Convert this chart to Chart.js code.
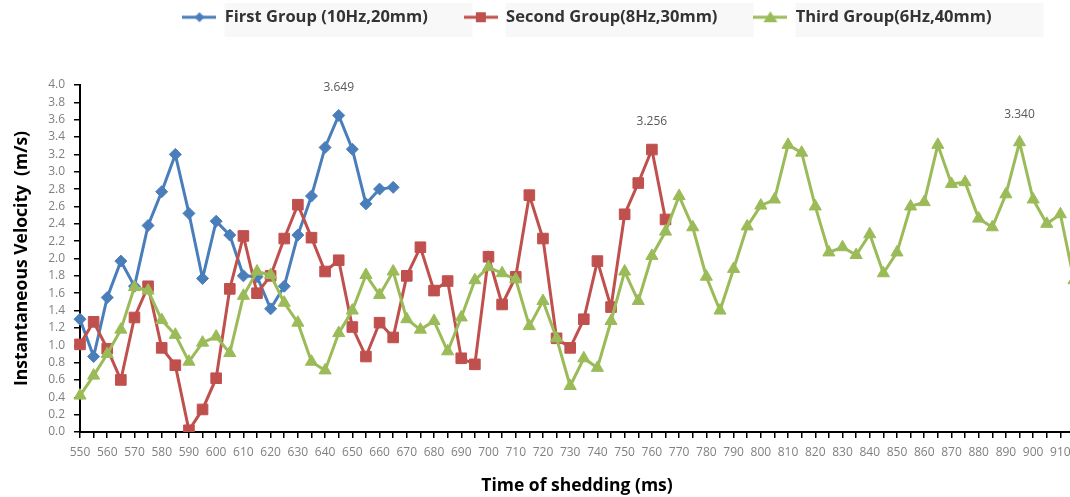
<!DOCTYPE html>
<html lang="en">
<head>
    <meta charset="UTF-8">
    <title>Instantaneous Velocity</title>
    <script src="https://cdn.jsdelivr.net/npm/chart.js"></script>
    <style>
        html, body { margin: 0; padding: 0; overflow: hidden; background: #ffffff; }
        .wrap { width: 1100px; height: 497px; position: relative; }
    </style>
</head>
<body>
    <div class="wrap"><canvas id="velocityChart"></canvas></div>

    <script>
        // time of shedding (ms), one category every 5 ms
        const timeLabels = [
            550, 555, 560, 565, 570, 575, 580, 585, 590, 595,
            600, 605, 610, 615, 620, 625, 630, 635, 640, 645,
            650, 655, 660, 665, 670, 675, 680, 685, 690, 695,
            700, 705, 710, 715, 720, 725, 730, 735, 740, 745,
            750, 755, 760, 765, 770, 775, 780, 785, 790, 795,
            800, 805, 810, 815, 820, 825, 830, 835, 840, 845,
            850, 855, 860, 865, 870, 875, 880, 885, 890, 895,
            900, 905, 910, 915
        ];

        const firstGroup = [
            1.30, 0.87, 1.55, 1.97, 1.68, 2.38, 2.77, 3.20, 2.52, 1.77,
            2.43, 2.27, 1.80, 1.79, 1.42, 1.68, 2.27, 2.72, 3.28, 3.649,
            3.26, 2.63, 2.80, 2.82
        ];

        const secondGroup = [
            1.01, 1.27, 0.96, 0.60, 1.32, 1.68, 0.97, 0.77, 0.02, 0.26,
            0.62, 1.65, 2.26, 1.60, 1.80, 2.23, 2.62, 2.24, 1.85, 1.98,
            1.21, 0.87, 1.26, 1.09, 1.80, 2.13, 1.63, 1.74, 0.85, 0.78,
            2.02, 1.47, 1.79, 2.73, 2.23, 1.08, 0.97, 1.30, 1.97, 1.44,
            2.51, 2.87, 3.256, 2.45
        ];

        const thirdGroup = [
            0.42, 0.65, 0.90, 1.18, 1.67, 1.63, 1.29, 1.12, 0.81, 1.03,
            1.10, 0.91, 1.57, 1.85, 1.81, 1.49, 1.26, 0.81, 0.71, 1.14,
            1.40, 1.81, 1.58, 1.85, 1.30, 1.18, 1.28, 0.93, 1.32, 1.75,
            1.90, 1.83, 1.76, 1.22, 1.51, 1.08, 0.53, 0.85, 0.74, 1.28,
            1.85, 1.51, 2.03, 2.31, 2.72, 2.36, 1.79, 1.40, 1.88, 2.37,
            2.61, 2.68, 3.31, 3.22, 2.60, 2.07, 2.13, 2.04, 2.28, 1.83,
            2.07, 2.60, 2.65, 3.31, 2.86, 2.88, 2.46, 2.36, 2.74, 3.340,
            2.68, 2.40, 2.51, 1.75
        ];

        const seriesNames = ['First Group (10Hz,20mm)', 'Second Group(8Hz,30mm)', 'Third Group(6Hz,40mm)'];
        const seriesColors = ['#4a7ebb', '#c0504d', '#9bbb59'];

        // peak values that carry a label: [dataset, time, text]
        const peakLabels = [[0, 645, '3.649'], [1, 760, '3.256'], [2, 895, '3.340']];

        Chart.defaults.font.family = '"Open Sans", "DejaVu Sans", sans-serif';

        // little line + marker pictures for the legend
        function legendIcon(color, shape) {
            const c = document.createElement('canvas');
            c.width = 34; c.height = 14;
            const g = c.getContext('2d');
            g.strokeStyle = color; g.fillStyle = color; g.lineWidth = 3;
            g.beginPath(); g.moveTo(0, 7); g.lineTo(34, 7); g.stroke();
            g.beginPath();
            if (shape === 'diamond') {
                g.moveTo(17, 2); g.lineTo(22, 7); g.lineTo(17, 12); g.lineTo(12, 7);
            } else if (shape === 'square') {
                g.rect(12, 2, 10, 10);
            } else {
                g.moveTo(17, 1); g.lineTo(24, 12); g.lineTo(10, 12);
            }
            g.closePath(); g.fill();
            return c;
        }
        const legendIcons = [
            legendIcon(seriesColors[0], 'diamond'),
            legendIcon(seriesColors[1], 'square'),
            legendIcon(seriesColors[2], 'triangle')
        ];

        const legendShift = { dx: 50, dy: -27 };

        const legendTweak = {
            id: 'legendTweak',
            beforeInit(chart) {
                const legend = chart.legend;
                const origFit = legend.fit;
                legend.fit = function () {
                    origFit.call(this);
                    this.height = 85;
                };
                const origDraw = legend.draw;
                legend.draw = function () {
                    const ctx = this.ctx;
                    ctx.save();
                    ctx.translate(legendShift.dx, legendShift.dy);
                    ctx.fillStyle = '#f8f8f8';
                    (this.legendHitBoxes || []).forEach(box => {
                        ctx.fillRect(box.left + 34 + 8, 3 - legendShift.dy, 248, 34);
                    });
                    origDraw.apply(this, arguments);
                    ctx.restore();
                };
            }
        };

        const peakLabelPlugin = {
            id: 'peakLabels',
            afterDatasetsDraw(chart) {
                const ctx = chart.ctx;
                ctx.save();
                ctx.font = '12px "Open Sans", sans-serif';
                ctx.fillStyle = '#595959';
                ctx.textAlign = 'center';
                ctx.textBaseline = 'middle';
                peakLabels.forEach(([ds, t, text]) => {
                    const pt = chart.getDatasetMeta(ds).data[timeLabels.indexOf(t)];
                    ctx.fillText(text, pt.x, pt.y - 28);
                });
                ctx.restore();
            }
        };

        const makeDataset = (i, data, style, radius, order) => ({
            label: seriesNames[i],
            data: data,
            borderColor: seriesColors[i],
            backgroundColor: seriesColors[i],
            borderWidth: 3,
            pointStyle: style,
            pointRadius: radius,
            pointHoverRadius: radius,
            pointBorderWidth: 1,
            tension: 0,
            order: order
        });

        const velocityChart = new Chart(document.getElementById('velocityChart'), {
            type: 'line',
            data: {
                labels: timeLabels,
                datasets: [
                    makeDataset(0, firstGroup, 'rectRot', 6, 3),
                    makeDataset(1, secondGroup, 'rect', 7.5, 2),
                    makeDataset(2, thirdGroup, 'triangle', 7, 1)
                ]
            },
            options: {
                responsive: true,
                maintainAspectRatio: false,
                animation: false,
                layout: { padding: { left: 0, right: 26, top: 0, bottom: 0 } },
                plugins: {
                    tooltip: { enabled: false },
                    legend: {
                        position: 'top',
                        labels: {
                            usePointStyle: true,
                            pointStyleWidth: 34,
                            padding: 36,
                            color: '#333333',
                            font: { size: 16.5, weight: 'bold' },
                            sort: (a, b) => a.datasetIndex - b.datasetIndex,
                            generateLabels(chart) {
                                return chart.data.datasets.map((ds, i) => ({
                                    text: ds.label,
                                    datasetIndex: i,
                                    pointStyle: legendIcons[i],
                                    fillStyle: ds.borderColor,
                                    strokeStyle: ds.borderColor,
                                    fontColor: '#333333',
                                    lineWidth: 0,
                                    hidden: false
                                }));
                            }
                        }
                    }
                },
                scales: {
                    x: {
                        type: 'category',
                        offset: false,
                        afterFit(scale) { scale.height = 65; },
                        grid: {
                            drawOnChartArea: false,
                            drawTicks: true,
                            tickLength: 6,
                            color: '#000000',
                            lineWidth: 1.5
                        },
                        border: { color: '#000000', width: 2 },
                        ticks: {
                            autoSkip: false,
                            maxRotation: 0,
                            minRotation: 0,
                            padding: 7,
                            color: '#808080',
                            font: { size: 12 },
                            callback: (v, i) => (i % 2 === 0 ? String(timeLabels[i]) : '')
                        },
                        title: {
                            display: true,
                            text: 'Time of shedding (ms)',
                            color: '#000000',
                            font: { size: 17.5, weight: 'bold' },
                            padding: { top: 0, bottom: 0 }
                        }
                    },
                    y: {
                        min: 0,
                        max: 4,
                        afterFit(scale) { scale.width = 80; },
                        grid: {
                            drawOnChartArea: false,
                            drawTicks: true,
                            tickLength: 6,
                            color: '#000000',
                            lineWidth: 1.5
                        },
                        border: { color: '#000000', width: 2 },
                        ticks: {
                            autoSkip: false,
                            stepSize: 0.2,
                            padding: 9,
                            color: '#808080',
                            font: { size: 12 },
                            callback: v => v.toFixed(1)
                        },
                        title: {
                            display: true,
                            text: 'Instantaneous Velocity  (m/s)',
                            color: '#000000',
                            font: { size: 17.5, weight: 'bold' },
                            padding: { top: 12, bottom: 0 }
                        }
                    }
                }
            },
            plugins: [legendTweak, peakLabelPlugin]
        });
    </script>
</body>
</html>
